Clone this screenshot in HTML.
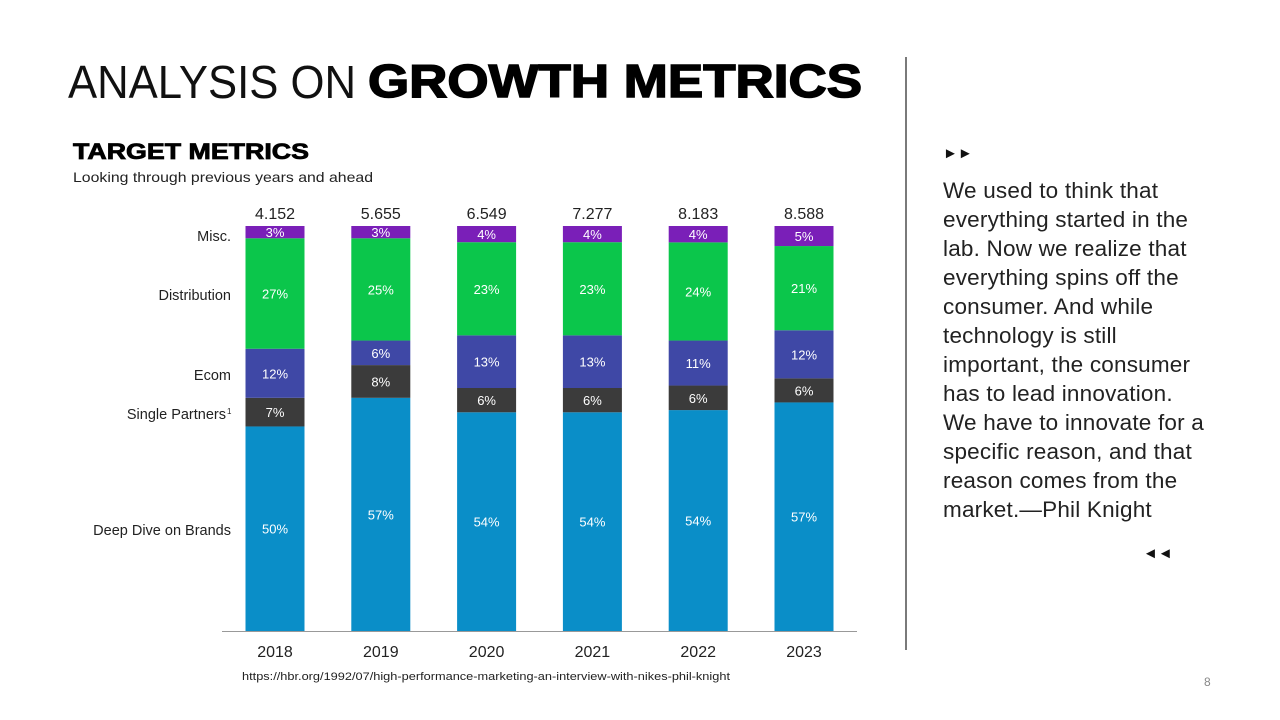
<!DOCTYPE html>
<html><head><meta charset="utf-8"><style>
html,body{margin:0;padding:0;background:#fff}
svg{display:block;font-family:"Liberation Sans",sans-serif}
</style></head><body>
<svg id="c" width="1280" height="720" viewBox="0 0 1280 720">
<text x="68" y="98" font-size="46" fill="#111" textLength="288" lengthAdjust="spacingAndGlyphs">ANALYSIS ON</text>
<text x="368" y="97" font-size="46" font-weight="bold" fill="#000" stroke="#000" stroke-width="1.5" textLength="494" lengthAdjust="spacingAndGlyphs">GROWTH METRICS</text>
<text x="73" y="159" font-size="22" font-weight="bold" fill="#000" stroke="#000" stroke-width="0.8" textLength="236" lengthAdjust="spacingAndGlyphs">TARGET METRICS</text>
<text x="73" y="182" font-size="14" fill="#222" textLength="300" lengthAdjust="spacingAndGlyphs">Looking through previous years and ahead</text>
<line x1="906" y1="57" x2="906" y2="650" stroke="#222" stroke-width="1.2"/>
<text x="943" y="158" font-size="15" fill="#111">►►</text>
<text x="1143" y="558" font-size="15" fill="#111">◄◄</text>
<g id="quote" font-size="22.5" fill="#222" letter-spacing="0.2"></g>
<text x="242" y="680" font-size="11" fill="#222" textLength="488" lengthAdjust="spacingAndGlyphs">https://hbr.org/1992/07/high-performance-marketing-an-interview-with-nikes-phil-knight</text>
<text x="1204" y="686" font-size="12" fill="#888">8</text>
<g id="chart"></g>
</svg>
<script>
const years=["2018","2019","2020","2021","2022","2023"];
const totals=["4.152","5.655","6.549","7.277","8.183","8.588"];
const seriesNames=["Deep Dive on Brands","Single Partners","Ecom","Distribution","Misc."];
const deepDive=[50,57,54,54,54,57];
const singlePartners=[7,8,6,6,6,6];
const ecom=[12,6,13,13,11,12];
const distribution=[27,25,23,23,24,21];
const misc=[3,3,4,4,4,5];
const series=[deepDive,singlePartners,ecom,distribution,misc];
const colors=["#0a8ec8","#3b3b3b","#3f48a6","#0bc64b","#7a1fb8"];
const labelY=[535,419,380,300,241];
const quoteLines=["We used to think that","everything started in the","lab. Now we realize that","everything spins off the","consumer. And while","technology is still","important, the consumer","has to lead innovation.","We have to innovate for a","specific reason, and that","reason comes from the","market.—Phil Knight"];
const NS="http://www.w3.org/2000/svg";
function mk(tag,attrs,parent,txt){const e=document.createElementNS(NS,tag);for(const k in attrs)e.setAttribute(k,attrs[k]);if(txt!==undefined)e.textContent=txt;parent.appendChild(e);return e;}
const q=document.getElementById('quote');
quoteLines.forEach((l,i)=>{const t=mk('text',{x:943,y:198+i*29},q,l);

});
const g=document.getElementById('chart');
const plotTop=226,plotBottom=631,bw=59;
const x0=275,step=105.8;
function xc(i){return x0+i*step;}
function yScale(p,sum){return plotBottom-(plotBottom-plotTop)*p/sum;}
const axis=mk('line',{x1:222,y1:631.5,x2:857,y2:631.5,stroke:'#999','stroke-width':1},g);


years.forEach((y,i)=>{
  const sum=series.reduce((a,s)=>a+s[i],0);
  let acc=0;
  series.forEach((s,k)=>{
    const y1=yScale(acc,sum),y2=yScale(acc+s[i],sum);
    const r=mk('rect',{x:xc(i)-bw/2,y:y2,width:bw,height:y1-y2,fill:colors[k]},g);
    
    
    const t=mk('text',{x:xc(i),y:(y1+y2)/2+5,'font-size':13,fill:'#fff','text-anchor':'middle'},g,s[i]+'%');
    
    
    acc+=s[i];
  });
  const tt=mk('text',{x:xc(i),y:219,'font-size':16,fill:'#222','text-anchor':'middle'},g,totals[i]);
  
  
  const xl=mk('text',{x:xc(i),y:657,'font-size':16,fill:'#222','text-anchor':'middle'},g,y);
  
  
});
seriesNames.forEach((n,k)=>{
  const t=mk('text',{x:k==1?226:231,y:labelY[k],'font-size':14.5,fill:'#222','text-anchor':'end'},g,n);
  
  
  if(k==1){const s=mk('text',{x:227,y:labelY[k]-5,'font-size':8,fill:'#222'},g,'1');
  
  }
});
</script>
</body></html>
